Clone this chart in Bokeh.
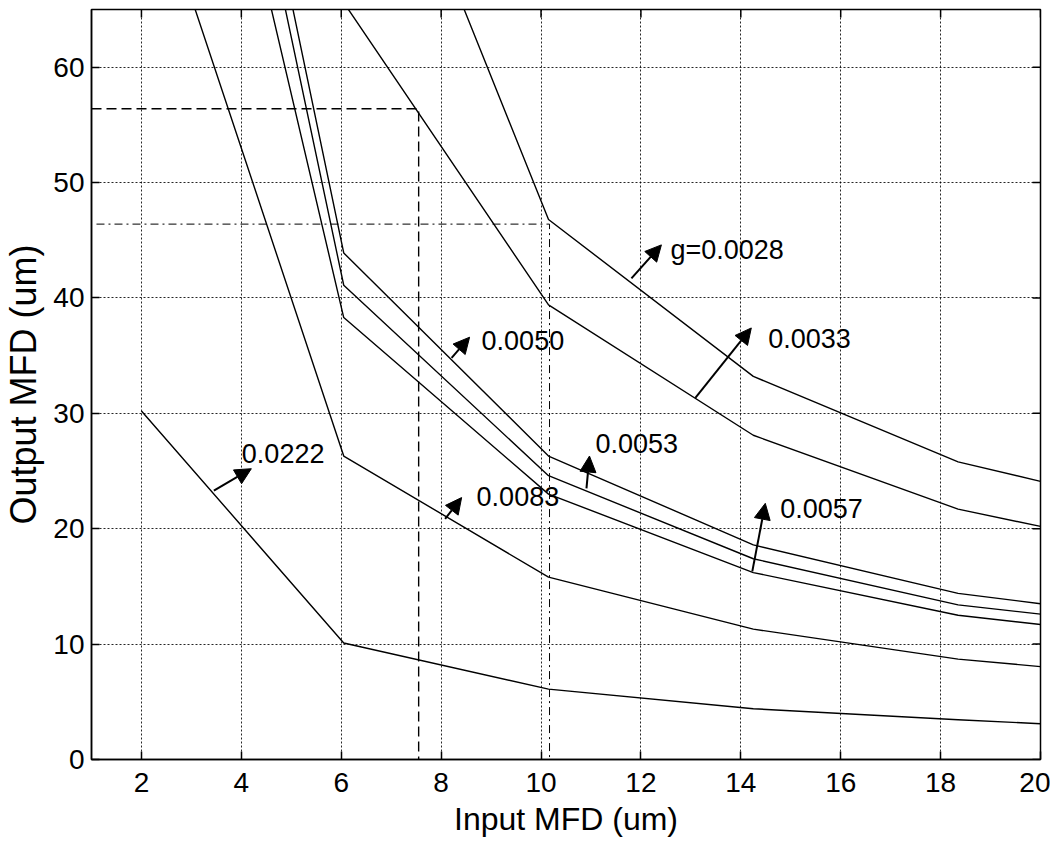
import numpy as np
from bokeh.plotting import figure
from bokeh.models import Range1d, FixedTicker, Arrow, NormalHead, ColumnDataSource
from bokeh.embed import file_html
from bokeh.resources import INLINE
from bokeh.core.properties import value

nan = float("nan")

# ---- data ----
input_mfd = [2, 6.05, 10.15, 14.25, 18.35, 20]
g_0028 = [nan, 91.0, 46.8, 33.2, 25.8, 24.1]
g_0033 = [nan, 65.6, 39.4, 28.1, 21.7, 20.2]
g_0050 = [128.0, 43.9, 26.3, 18.6, 14.4, 13.5]
g_0053 = [124.0, 41.1, 24.6, 17.4, 13.4, 12.6]
g_0057 = [113.0, 38.3, 23.0, 16.2, 12.5, 11.7]
g_0083 = [79.0, 26.3, 15.8, 11.3, 8.7, 8.05]
g_0222 = [30.2, 10.1, 6.1, 4.4, 3.45, 3.1]

x_ticks = [2, 4, 6, 8, 10, 12, 14, 16, 18, 20]
y_ticks = [0, 10, 20, 30, 40, 50, 60]

# guide lines (dashed and dash-dot)
dash_x = [1, 7.55, 7.55]
dash_y = [56.4, 56.4, 0]
dashdot_x = [1.1, 10.17, 10.17]
dashdot_y = [46.4, 46.4, 0]

# annotations: label, arrow tail, arrow head, text anchor (data units)
ann_text = ["g=0.0028", "0.0033", "0.0050", "0.0053", "0.0057", "0.0083", "0.0222"]
ann_tail_x = [11.81, 13.09, 8.21, 10.91, 14.23, 8.08, 3.45]
ann_tail_y = [41.7, 31.35, 34.8, 23.5, 16.3, 20.85, 23.3]
ann_head_x = [12.41, 14.21, 8.57, 10.97, 14.49, 8.41, 4.20]
ann_head_y = [44.6, 37.4, 36.6, 26.3, 22.2, 22.7, 25.2]
ann_txt_x = [12.59, 14.55, 8.81, 11.09, 14.79, 8.71, 4.01]
ann_txt_y = [44.2, 36.5, 36.3, 27.4, 21.75, 22.8, 26.5]

FONT = "Liberation Sans"
X_MIN, X_MAX, Y_MIN, Y_MAX = 1, 20, 0, 65

p = figure(frame_width=949, frame_height=750,
           x_range=Range1d(X_MIN, X_MAX), y_range=Range1d(Y_MIN, Y_MAX),
           output_backend="svg", toolbar_location=None,
           min_border_top=9, min_border_right=10, min_border_left=0, min_border_bottom=0,
           x_axis_label="Input MFD (um)", y_axis_label="Output MFD (um)")
p.background_fill_color = "white"
p.border_fill_color = "white"
p.outline_line_color = "black"
p.outline_line_width = 1.5

for ax, ticks in ((p.xaxis, x_ticks), (p.yaxis, y_ticks)):
    ax.ticker = FixedTicker(ticks=ticks)
    ax.major_tick_in = 8
    ax.major_tick_out = 0
    ax.major_tick_line_color = "black"
    ax.major_tick_line_width = 1.5
    ax.minor_tick_line_color = None
    ax.axis_line_color = "black"
    ax.axis_line_width = 1.5
    ax.major_label_text_font = FONT
    ax.major_label_text_font_size = "28px"
    ax.major_label_text_color = "black"
    ax.axis_label_text_font = FONT
    ax.axis_label_text_font_style = "normal"
    ax.axis_label_text_color = "black"

p.xaxis.major_label_standoff = 13
p.xaxis.axis_label_standoff = 6
p.xaxis.axis_label_text_font_size = "32px"
p.yaxis.major_label_standoff = 7
p.yaxis.axis_label_standoff = 6
p.yaxis.axis_label_text_font_size = "36px"

p.xgrid.ticker = FixedTicker(ticks=x_ticks)
p.ygrid.ticker = FixedTicker(ticks=y_ticks)
for g in (p.xgrid, p.ygrid):
    g.grid_line_color = "black"
    g.grid_line_dash = "2 2"
    g.grid_line_width = 1
    g.grid_line_alpha = 0.85

# mirrored inner tick marks on the right and top frame edges (half clipped by frame)
p.scatter([X_MAX] * len(y_ticks), y_ticks, marker="dash", size=16,
          line_color="black", line_width=1.5)
p.scatter(x_ticks, [Y_MAX] * len(x_ticks), marker="dash", size=16, angle=np.pi / 2,
          line_color="black", line_width=1.5)

xs = np.array(input_mfd, dtype=float)
for ys in (g_0028, g_0033, g_0050, g_0053, g_0057, g_0083, g_0222):
    p.line(xs, np.array(ys, dtype=float), line_color="black", line_width=1.4)

p.line(dash_x, dash_y, line_color="black", line_width=1.4, line_dash="10 5")
p.line(dashdot_x, dashdot_y, line_color="black", line_width=1.0, line_dash="8 4 2 4")

for i in range(len(ann_text)):
    p.add_layout(Arrow(end=NormalHead(size=16, fill_color="black", line_color="black"),
                       x_start=ann_tail_x[i], y_start=ann_tail_y[i],
                       x_end=ann_head_x[i], y_end=ann_head_y[i],
                       line_color="black", line_width=2))

src = ColumnDataSource(dict(x=ann_txt_x, y=ann_txt_y, t=ann_text))
p.text(x="x", y="y", text="t", source=src, text_font=value(FONT), text_font_size="27px",
       text_align="left", text_baseline="middle", text_color="black")

open("out.html", "w").write(file_html(p, INLINE))
